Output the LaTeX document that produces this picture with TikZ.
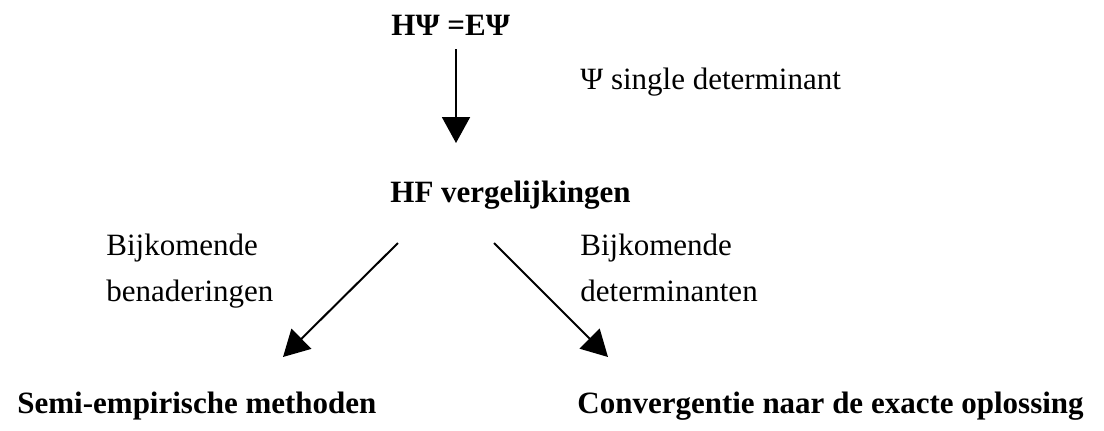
\documentclass[tikz,border=0pt]{standalone}
\usepackage{fontspec}
\setmainfont{Liberation Serif}
\usetikzlibrary{arrows.meta}
\tikzset{
  lbl/.style={inner sep=0pt, anchor=base west, font=\fontsize{15.5}{18}\selectfont},
  head/.style={lbl, font=\fontsize{15.5}{18}\selectfont\bfseries},
  arr/.style={line width=1pt, -{Triangle[length=13pt,width=14pt]}}
}
\begin{document}
\begin{tikzpicture}[x=0.5pt, y=-0.5pt]
  \useasboundingbox (0,0) rectangle (1104,430);

  % equations and methods
  \node[head] (eq)   at (391,35)  {HΨ =EΨ};
  \node[head] (hf)   at (390,202) {HF vergelijkingen};
  \node[head] (sem)  at (17,413)  {Semi-empirische methoden};
  \node[head] (conv) at (577,413) {Convergentie naar de exacte oplossing};

  % arrow labels
  \node[lbl] (single) at (580,89)  {Ψ single determinant};
  \node[lbl] (bl1)    at (106,255) {Bijkomende};
  \node[lbl] (bl2)    at (106,301) {benaderingen};
  \node[lbl] (br1)    at (580,255) {Bijkomende};
  \node[lbl] (br2)    at (580,301) {determinanten};

  % connectors
  \draw[arr] ([shift={(65,14)}]eq.base west) -- ([shift={(66,-59)}]hf.base west);
  \draw[arr] ([shift={(8,41)}]hf.base west) -- ([shift={(266,-56)}]sem.base west);
  \draw[arr] ([shift={(104,41)}]hf.base west) -- ([shift={(31,-56)}]conv.base west);
\end{tikzpicture}
\end{document}
